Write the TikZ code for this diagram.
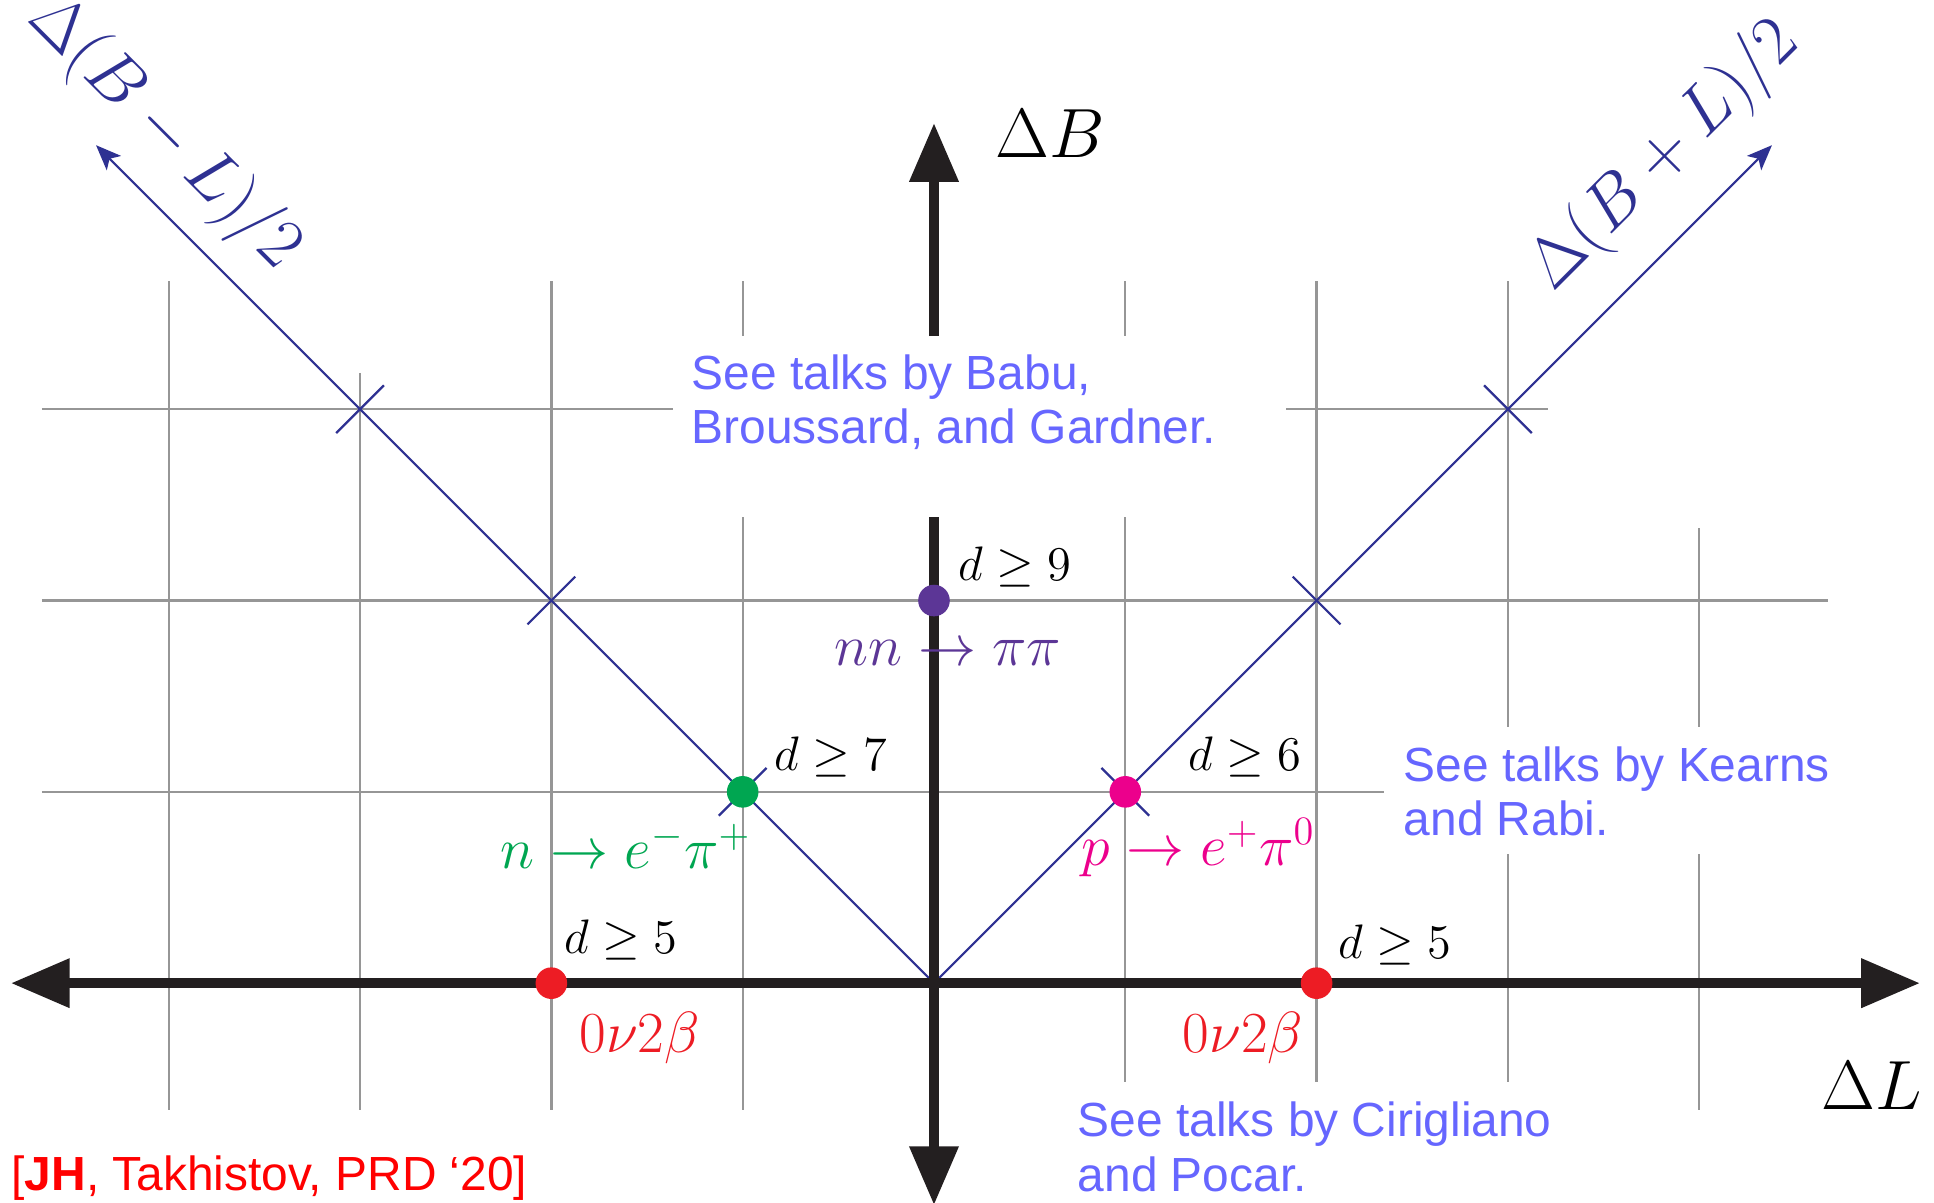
\documentclass[tikz,border=0pt]{standalone}
\usepackage{amsmath}
\usepackage{fontspec}
\newfontfamily\talkfont{Liberation Sans}
\usepackage{tikz}
\usetikzlibrary{arrows.meta}
\usepackage{xcolor}

\definecolor{gridgray}{RGB}{150,150,150}
\definecolor{diagblue}{RGB}{46,49,146}
\definecolor{axisblack}{RGB}{35,31,32}
\definecolor{talkblue}{RGB}{102,102,255}
\definecolor{nnpurple}{RGB}{92,54,150}
\definecolor{ngreen}{RGB}{0,166,81}
\definecolor{pmagenta}{RGB}{236,0,140}
\definecolor{bbred}{RGB}{237,28,36}

\begin{document}
\begin{tikzpicture}[
  x=2cm, y=2cm,
  grid/.style={draw=gridgray, line width=0.7pt},
  diag/.style={draw=diagblue, line width=0.65pt, >={Stealth[length=7.5pt,width=6pt,inset=1.8pt]}},
  tick/.style={draw=diagblue, line width=0.65pt},
  axis/.style={draw=axisblack, line width=3pt, >={Triangle[length=17.5pt,width=14pt]}},
  dot/.style={circle, inner sep=0pt, minimum size=9.4pt},
  dlab/.style={anchor=base west, inner sep=0pt, font=\fontsize{13.5}{16}\selectfont},
  proc/.style={anchor=base west, inner sep=0pt, font=\fontsize{17}{20}\selectfont},
  axlab/.style={anchor=base west, inner sep=0pt, font=\fontsize{20}{24}\selectfont},
  talk/.style={anchor=north west, inner sep=0pt, align=left, text=talkblue,
    font=\talkfont\fontsize{14.25}{16.2}\selectfont}
]

\useasboundingbox (-4.882,-1.145) rectangle (5.227,5.139);

\def\yTop{3.67}
\def\yBot{-0.664}
\def\yBotR{-0.518}
\def\xLeft{-4.663}

% ------------------------
% Grid (gaps behind the text blocks)
% ------------------------
\foreach \x in {-4,-2}
  \draw[grid] (\x,\yTop) -- (\x,\yBot);
\draw[grid] (-3,3.19) -- (-3,\yBot);
\draw[grid] (-1,\yTop) -- (-1,3.382) (-1,2.436) -- (-1,\yBot);
\draw[grid] (1,\yTop) -- (1,3.382) (1,2.436) -- (1,\yBotR);
\draw[grid] (2,\yTop) -- (2,\yBotR);
\draw[grid] (3,\yTop) -- (3,1.338) (3,0.674) -- (3,\yBotR);
\draw[grid] (4,2.378) -- (4,1.338) (4,0.674) -- (4,\yBot);

\draw[grid] (\xLeft,3) -- (-1.364,3) (1.84,3) -- (3.21,3);
\draw[grid] (\xLeft,2) -- (4.673,2);
\draw[grid] (\xLeft,1) -- (2.352,1);

% ------------------------
% B-L and B+L directions
% ------------------------
\coordinate (O) at (0,0);
\coordinate (bmlTip) at (-4.38,4.38);
\coordinate (bplTip) at (4.38,4.38);
\draw[diag,->] (O) -- (bmlTip);
\draw[diag,->] (O) -- (bplTip);

\foreach \k in {1,2,3} {
  \draw[tick] (-\k-0.125,\k-0.125) -- (-\k+0.125,\k+0.125);
  \draw[tick] (\k-0.125,\k+0.125) -- (\k+0.125,\k-0.125);
}

\node[rotate=-45, inner sep=0pt, text=diagblue, font=\fontsize{20}{24}\selectfont]
  (bmlLab) at (-4.025,4.443) {$\Delta(B-L)/2$};
\node[rotate=45, inner sep=0pt, text=diagblue, font=\fontsize{20}{24}\selectfont]
  (bplLab) at (3.821,4.323) {$\Delta(B+L)/2$};

% ------------------------
% Axes
% ------------------------
\draw[axis,<->] (-4.825,0) -- (5.154,0);
\draw[axis,->] (0,3.382) -- (0,4.496);
\draw[axis,->] (0,2.436) -- (0,-1.16);

\node[axlab] (labB) at (0.319,4.318) {$\Delta B$};
\node[axlab] (labL) at (4.637,-0.659) {$\Delta L$};

% ------------------------
% Processes
% ------------------------
\node[dot, fill=nnpurple] (dotNN) at (0,2) {};
\node[dot, fill=ngreen] (dotN) at (-1,1) {};
\node[dot, fill=pmagenta] (dotP) at (1,1) {};
\node[dot, fill=bbred] (dotBBl) at (-2,0) {};
\node[dot, fill=bbred] (dotBBr) at (2,0) {};

\node[dlab] (dNN) at (0.125,2.107) {$d\geq 9$};
\node[dlab] (dN) at (-0.836,1.113) {$d\geq 7$};
\node[dlab] (dP) at (1.328,1.113) {$d\geq 6$};
\node[dlab] (dBBl) at (-1.934,0.157) {$d\geq 5$};
\node[dlab] (dBBr) at (2.112,0.131) {$d\geq 5$};

\node[proc, anchor=base, text=nnpurple] (procNN) at (0.071,1.662) {$nn\to\pi\pi$};
\node[proc, text=ngreen] (procN) at (-2.269,0.601) {$n\to e^-\pi^+$};
\node[proc, text=pmagenta] (procP) at (0.768,0.617) {$p\to e^+\pi^0$};
\node[proc, text=bbred] (procBBl) at (-1.856,-0.361) {$0\nu2\beta$};
\node[proc, text=bbred] (procBBr) at (1.296,-0.361) {$0\nu2\beta$};

% ------------------------
% Talks and reference
% ------------------------
\node[talk] (talkB) at (-1.270,3.288) {See talks by Babu,\\Broussard, and Gardner.};
\node[talk] (talkP) at (2.452,1.239) {See talks by Kearns\\and Rabi.};
\node[talk] (talkL) at (0.748,-0.617) {See talks by Cirigliano\\and Pocar.};

\node[anchor=base west, inner sep=0pt, text=red, font=\talkfont\fontsize{14.25}{16.2}\selectfont]
  (ref) at (-4.825,-1.082) {[\textbf{JH}, Takhistov, PRD ‘20]};

\end{tikzpicture}
\end{document}
